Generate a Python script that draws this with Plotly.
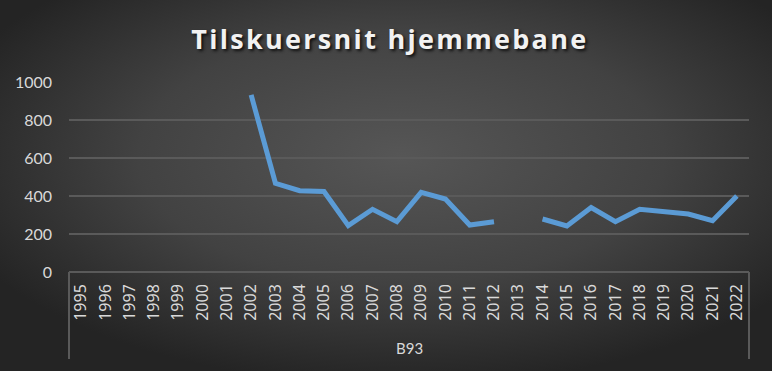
import base64
import plotly.graph_objects as go

years = [str(y) for y in range(1995, 2023)]
attendance = [None, None, None, None, None, None, None,
              932, 467, 428, 424, 244, 330, 265, 419, 384, 247, 265,
              None, 279, 242, 339, 265, 330, 317, 305, 270, 400]
group_label = "B93"
title_text = "Tilskuersnit hjemmebane"
y_ticks = [0, 200, 400, 600, 800, 1000]

W, H = 772, 371
svg = f'''<svg xmlns="http://www.w3.org/2000/svg" width="{W}" height="{H}">
<defs><radialGradient id="g" cx="52%" cy="42%" r="62%" gradientUnits="objectBoundingBox">
<stop offset="0%" stop-color="#565656"/><stop offset="55%" stop-color="#424242"/><stop offset="100%" stop-color="#242424"/>
</radialGradient></defs>
<rect width="{W}" height="{H}" fill="url(#g)"/></svg>'''
bg = "data:image/svg+xml;base64," + base64.b64encode(svg.encode()).decode()

fig = go.Figure()
fig.add_trace(go.Scatter(
    x=years, y=attendance, mode="lines",
    line=dict(color="#5b9bd5", width=5),
    connectgaps=False, showlegend=False, hoverinfo="x+y"))

fig.update_layout(
    width=W, height=H,
    margin=dict(l=69, r=23, t=82, b=99),
    paper_bgcolor="#333333", plot_bgcolor="rgba(0,0,0,0)",
    images=[dict(source=bg, xref="paper", yref="paper", x=-69/680, y=1+82/190,
                 sizex=W/680, sizey=H/190, sizing="stretch", layer="below",
                 xanchor="left", yanchor="top")],
    title=dict(text=f'<span style="letter-spacing:2.3px">{title_text}</span>',
               x=0.505, xanchor="center", y=1-40/H, yanchor="middle",
               yref="container",
               font=dict(family="Open Sans", size=27, color="#f2f2f2", weight="bold",
                         shadow="2px 2px 3px #111")),
    font=dict(family="Lato", color="#d9d9d9"),
)
fig.update_xaxes(type="category", range=[-0.5, len(years) - 0.5], tickangle=-90,
                 showgrid=False, automargin=False,
                 tickfont=dict(size=16, color="#d9d9d9", family="Noto Sans"),
                 showline=False, ticks="", ticklabelstandoff=8, fixedrange=True)
fig.update_yaxes(range=[0, 1000], tickvals=y_ticks, showgrid=True,
                 gridcolor="#5a5a5a", gridwidth=2, zeroline=False, automargin=False,
                 tickfont=dict(size=16, color="#d9d9d9", family="Lato"),
                 ticks="", ticklabelstandoff=16, showline=False, fixedrange=True)

# category axis box
box_color = "#5a5a5a"
fig.add_shape(type="line", xref="paper", yref="paper", x0=0, x1=1, y0=0, y1=0,
              line=dict(color=box_color, width=2))
for xv in (0, 1):
    fig.add_shape(type="line", xref="paper", yref="paper", x0=xv, x1=xv, y0=0, y1=-87/190,
                  line=dict(color=box_color, width=2))
fig.add_annotation(text=group_label, xref="paper", yref="paper", x=0.5, y=-76/190,
                   showarrow=False, font=dict(size=15, color="#d9d9d9", family="Lato"),
                   yanchor="middle")

fig.write_html("out.html")
